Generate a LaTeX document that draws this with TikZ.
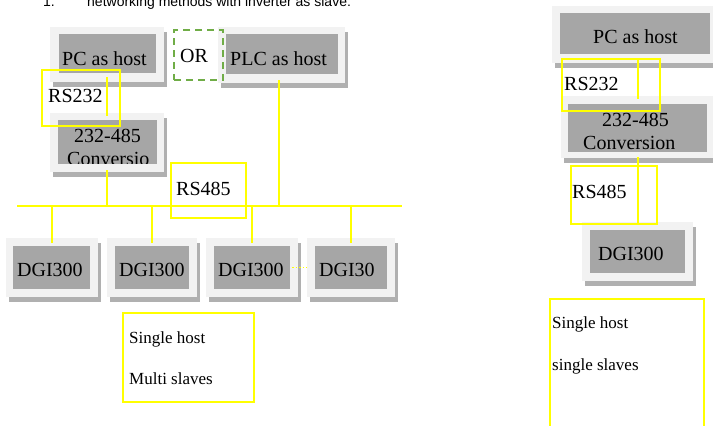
\documentclass[tikz,border=0pt]{standalone}
\usepackage{fontspec}
\setmainfont{Liberation Serif}
\newfontfamily\titlefont{Liberation Sans}
\definecolor{outerc}{HTML}{F2F2F2}
\definecolor{innerc}{HTML}{A6A6A6}
\definecolor{shadowc}{HTML}{B0B0B0}
\definecolor{yel}{HTML}{FFFF00}
\definecolor{grn}{HTML}{70AD47}
\tikzset{
  yl/.style={draw=yel, line width=2pt},
  ybox/.style={draw=yel, line width=2pt},
  lbl/.style={inner sep=0pt, anchor=base west, font=\fontsize{20}{24}\selectfont},
  small/.style={inner sep=0pt, anchor=base west, font=\fontsize{17}{20}\selectfont},
  gridbox/.style={inner sep=0pt, fill=outerc},
  innerbox/.style={inner sep=0pt, fill=innerc},
}
% name, outer x1,y1,x2,y2, inner x1,y1,x2,y2
\newcommand\gbox[9]{%
  \fill[shadowc] (#2+3,#3+5) rectangle (#4+3,#5+5);
  \node[gridbox, minimum width={(#4-#2)*1pt}, minimum height={(#5-#3)*1pt}] (#1) at ({(#2+#4)/2},{(#3+#5)/2}) {};
  \node[innerbox, minimum width={(#8-#6)*1pt}, minimum height={(#9-#7)*1pt}] (#1i) at ({(#6+#8)/2},{(#7+#9)/2}) {};
}
\begin{document}
\begin{tikzpicture}[x=1pt, y=-1pt]
\useasboundingbox (0,0) rectangle (713,426);
\clip (0,0) rectangle (713,426);
\fill[white] (0,0) rectangle (713,426);

% title
\node[inner sep=0pt, anchor=base west, font=\titlefont\fontsize{14}{16}\selectfont] (tnum) at (43,6) {1.};
\node[inner sep=0pt, anchor=base west, font=\titlefont\fontsize{14}{16}\selectfont] (title) at (87,6) {networking methods with inverter as slave:};

% left boxes
\gbox{pc}{50}{27}{164}{82}{59}{34}{156}{73}
\gbox{plc}{218}{27}{345}{83}{226}{34}{338}{74}
\gbox{conv}{50}{113}{164}{172}{58}{120}{157}{164}
\gbox{d1}{6}{238}{98}{297}{13}{246}{90}{289}
\gbox{d2}{107}{238}{197}{297}{115}{246}{189}{289}
\gbox{d3}{206}{238}{298}{297}{214}{246}{290}{289}
\gbox{d4}{307}{238}{395}{297}{315}{246}{387}{289}
% right boxes
\gbox{rpc}{552}{6}{716}{63}{560}{13}{710}{54}
\gbox{rconv}{561}{96}{716}{158}{568}{104}{707}{152}
\gbox{rd}{582}{222}{693}{281}{590}{230}{685}{273}

% OR dashed box
\node[draw=grn, line width=2.2pt, dash pattern=on 7pt off 5pt, inner sep=0pt, minimum width=49pt, minimum height=50pt] (orbox) at (198.5,55) {};
\node[lbl] (ortext) at (180,62) {OR};

% left connectors
\coordinate (bl) at (17,206);
\coordinate (br) at (402,206);
\coordinate (bplc) at (279,206);
\draw[yl] (bl) -- (br);
\draw[yl, shorten <=-5pt, shorten >=-3pt] (pc.south) -- (conv.north);
\draw[yl, shorten <=-2pt] (conv.south) -- (conv.south |- bl);
\draw[yl, shorten <=-3pt] (plc.south -| bplc) -- (bplc);
\foreach \d in {d1,d2,d3,d4}{
  \draw[yl, shorten >=-5pt] (\d.north |- bl) -- (\d.north);
}
\draw[draw=yel, line width=1.5pt, dash pattern=on 1.5pt off 2pt, shorten <=-6pt] (d3.east) -- (d4.west);

% right connectors
\coordinate (rx) at (638,0);
\draw[yl, shorten <=-3pt, shorten >=-3pt] (rpc.south -| rx) -- (rconv.north -| rx);
\draw[yl, shorten <=-1pt, shorten >=-1pt] (rconv.south -| rx) -- (rd.north -| rx);

% yellow label boxes
\node[ybox, inner sep=0pt, minimum width=78pt, minimum height=56pt] (rs232) at (81,98) {};
\node[ybox, inner sep=0pt, minimum width=75pt, minimum height=55pt] (rs485) at (208.5,190.5) {};
\node[ybox, inner sep=0pt, minimum width=131pt, minimum height=89pt] (single) at (188.5,357.5) {};
\node[ybox, inner sep=0pt, minimum width=98pt, minimum height=52pt] (rrs232) at (611,85) {};
\node[ybox, inner sep=0pt, minimum width=86pt, minimum height=58pt] (rrs485) at (614,195) {};
\node[ybox, inner sep=0pt, minimum width=154pt, minimum height=131pt] (rsingle) at (627,364.5) {};

% texts left
\node[lbl] (tpc) at (62,65) {PC as host};
\node[lbl] (tplc) at (230,65) {PLC as host};
\node[lbl] (t232) at (48,102) {RS232};
\node[lbl] (tconv1) at (74,142) {232-485};
\begin{scope}
  \clip (58,120) rectangle (157,163);
  \node[lbl] (tconv2) at (67,165) {Conversio};
\end{scope}
\node[lbl] (t485) at (176,195) {RS485};
\node[lbl] (td1) at (17,276) {DGI300};
\node[lbl] (td2) at (119,276) {DGI300};
\node[lbl] (td3) at (218,276) {DGI300};
\node[lbl] (td4) at (319,276) {DGI30};
\node[small] (ts1) at (129,343) {Single host};
\node[small] (ts2) at (129,384) {Multi slaves};

% texts right
\node[lbl] (trpc) at (593,43) {PC as host};
\node[lbl] (tr232) at (564,90) {RS232};
\node[lbl] (trconv1) at (602,126) {232-485};
\node[lbl] (trconv2) at (583,149) {Conversion};
\node[lbl] (tr485) at (572,198) {RS485};
\node[lbl] (trd) at (598,260) {DGI300};
\node[small] (trs1) at (552,328) {Single host};
\node[small] (trs2) at (552,370) {single slaves};
\end{tikzpicture}
\end{document}
